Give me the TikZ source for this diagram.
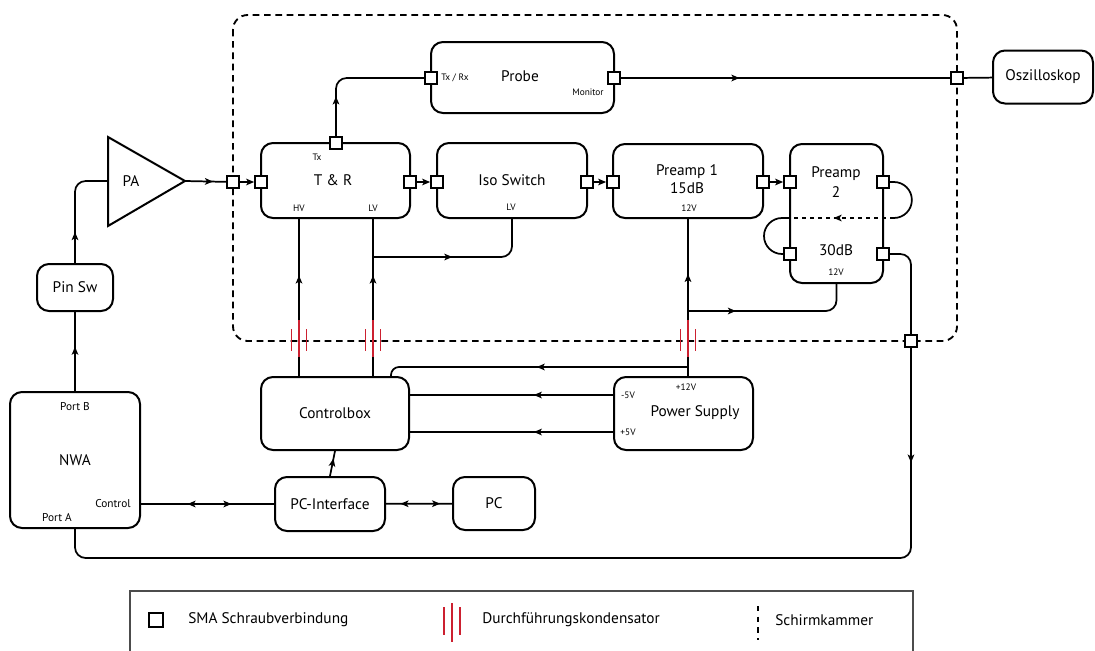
\documentclass[tikz,border=0pt]{standalone}
\usepackage{fontspec}
\setmainfont{PT Sans}
\usetikzlibrary{arrows.meta,decorations.markings}
\definecolor{capred}{RGB}{204,32,48}
\begin{document}
\begin{tikzpicture}[x=0.75pt,y=-0.75pt,
  wire/.style={line width=1.3pt},
  box/.style={draw, line width=1.5pt, rounded corners=9pt, inner sep=0pt},
  sz/.style 2 args={minimum width=#1*0.75pt, minimum height=#2*0.75pt},
  port/.style={draw, line width=1.3pt, fill=white, minimum size=9pt, inner sep=0pt},
  endarrow/.style={-{Stealth[length=6pt,width=5pt,inset=1.5pt]}},
  am/.style={postaction={decorate,decoration={markings,mark=at position #1 with {\arrow{Stealth[length=6pt,width=5pt,inset=1.5pt]}}}}},
  amr/.style={postaction={decorate,decoration={markings,mark=at position #1 with {\arrowreversed{Stealth[length=6pt,width=5pt,inset=1.5pt]}}}}},
  lbl/.style={font=\fontsize{11.5}{13.5}\selectfont, inner sep=0pt},
  lg/.style={font=\fontsize{11.5}{13.5}\selectfont, inner sep=0pt},
  sm/.style={font=\fontsize{7}{8}\selectfont, inner sep=0pt},
  md/.style={font=\fontsize{8.5}{10}\selectfont, inner sep=0pt},
  shield/.style={line width=1.4pt, dash pattern=on 5pt off 3.5pt, rounded corners=11pt},
  capline/.style={draw=capred, line width=1.3pt},
]
\useasboundingbox (0,0) rectangle (1095,650);

% shielding chamber
\draw[shield] (233,15) rectangle (957,341);

% boxes
\node[box, sz={183}{71}] (probe) at (522.5,77.5) {};
\node[lbl] at (520,76) {Probe};
\node[box, sz={100}{53}, lbl] (osz) at (1043,77) {Oszilloskop};
\node[box, sz={149}{75}] (tr) at (335.5,180.5) {};
\node[lbl] at (333,180) {T \& R};
\node[box, sz={150}{75}] (iso) at (512,180.5) {};
\node[lbl] at (512,180) {Iso Switch};
\node[box, sz={150}{74}] (p1) at (688,181) {};
\node[lbl, align=center] at (687,179) {Preamp 1\\15dB};
\node[box, sz={93}{139}] (p2) at (836.5,213.5) {};
\node[lbl, align=center] at (836,182) {Preamp\\[2pt]2};
\node[lbl] at (836,250) {30dB};
\node[box, sz={148}{73}, lbl] (cb) at (335,413.5) {Controlbox};
\node[box, sz={139}{73}] (ps) at (683.5,413.5) {};
\node[lbl] at (695,413) {Power Supply};
\node[box, sz={110}{54}, lbl] (pci) at (330,504) {PC-Interface};
\node[box, sz={82}{53}, lbl] (pc) at (494,503.5) {PC};
\node[box, sz={130}{136}] (nwa) at (75,460) {};
\node[lbl] at (75,460) {NWA};
\node[box, sz={76}{47}, lbl] (pinsw) at (75,287.5) {Pin Sw};

% PA
\draw[line width=1.5pt, line join=miter] (108,137) -- (185,181) -- (108,226) -- cycle;
\coordinate (paIn) at (108,181);
\coordinate (paOut) at (185,181);
\node[lbl] at (131,181) {PA};

% ports
\node[port] (shIn) at (233,182) {};
\node[port] (shOsz) at (957,78) {};
\node[port] (shOut) at (911,341) {};
\node[port] (probeTx) at (431,78) {};
\node[port] (probeMon) at (614,78) {};
\node[port] (trIn) at (261,182) {};
\node[port] (trOut) at (410,182) {};
\node[port] (trTx) at (336,143) {};
\node[port] (isoIn) at (437,182) {};
\node[port] (isoOut) at (587,182) {};
\node[port] (p1In) at (613,182) {};
\node[port] (p1Out) at (763,182) {};
\node[port] (p2a) at (790,182) {};
\node[port] (p2b) at (883,182) {};
\node[port] (p2c) at (790,254) {};
\node[port] (p2d) at (883,254) {};

% small labels
\node[sm] at (455,78) {Tx / Rx};
\node[sm] at (588,92) {Monitor};
\node[sm] at (317,157) {Tx};
\node[sm] at (299,208) {HV};
\node[sm] at (373,208) {LV};
\node[sm] at (511,207) {LV};
\node[sm] at (689,208) {12V};
\node[sm] at (836,272) {12V};
\node[sm] at (628,395) {-5V};
\node[sm] at (628,432) {+5V};
\node[sm] at (686,387) {+12V};
\node[md] at (75,407) {Port B};
\node[md] at (113,504) {Control};
\node[md] at (57,518) {Port A};

% wires
\draw[wire, am=0.56] (nwa.north) -- (pinsw.south);
\draw[wire, rounded corners=8pt, am=0.28] (pinsw.north) |- (paIn);
\draw[wire, am=0.68] (paOut) -- (shIn);
\draw[wire, endarrow] (shIn) -- (trIn);
\draw[wire, endarrow] (trOut) -- (isoIn);
\draw[wire, endarrow] (isoOut) -- (p1In);
\draw[wire, endarrow] (p1Out) -- (p2a);
\draw[wire, rounded corners=8pt, am=0.28] (trTx) |- (probeTx);
\draw[wire, am=0.36] (probeMon) -- (shOsz);
\draw[wire] (shOsz) -- (osz);

% preamp 2 loops
\draw[wire] (p2b.east) -- ++(4,0) arc[start angle=-90, end angle=90, radius=18] coordinate (lr);
\coordinate (ll) at (790,218);
\draw[wire, dashed, am=0.58] (lr) -- (ll);
\draw[wire] (ll) -- ++(-8,0) arc[start angle=270, end angle=90, radius=18] -- (p2c.west);

% output back to NWA port A
\coordinate (br) at (911,558);
\coordinate (bl) at (75,558);
\draw[wire, rounded corners=8pt] (p2d.east) -| (shOut.north);
\draw[wire, rounded corners=8pt, am=86pt] (shOut.south) -- (br) -- (bl) -- (nwa.south);

% supply lines
\coordinate (hvx) at (299,0);
\coordinate (lvx) at (373,0);
\coordinate (vx) at (688,0);
\coordinate (cbx) at (391,0);
\coordinate (y1) at (0,395);
\coordinate (y2) at (0,432);
\draw[wire, am=0.64] (cb.north -| hvx) -- (tr.south -| hvx);
\draw[wire, am=0.64] (cb.north -| lvx) -- (tr.south -| lvx);
\coordinate (lvj) at (373,257);
\draw[wire, rounded corners=8pt, am=0.46] (lvj) -| (iso.south);
\draw[wire, am=0.65] (ps.north -| vx) -- (p1.south -| vx);
\coordinate (vj1) at (688,311);
\draw[wire, rounded corners=8pt, am=0.28] (vj1) -| (p2.south);
\coordinate (vj2) at (688,367);
\draw[wire, rounded corners=6pt, am=0.5] (vj2) -| (cb.north -| cbx);
\draw[wire, am=0.39] (ps.west |- y1) -- (cb.east |- y1);
\draw[wire, am=0.39] (ps.west |- y2) -- (cb.east |- y2);
\draw[wire, am=0.7] (pci.north) -- (cb.south);
\draw[wire, amr=0.35, am=0.68] (nwa.east |- pci.west) -- (pci.west);
\draw[wire, amr=0.22, am=0.82] (pci) -- (pc);

% feedthrough capacitors
\foreach \x in {299,373,688} {
  \draw[capline] (\x,320) -- (\x,357);
  \draw[capline] (\x-7.5,329) -- (\x-7.5,351);
  \draw[capline] (\x+7.5,329) -- (\x+7.5,351);
}

% legend
\draw[line width=0.9pt, black!70] (130,655) -- (130,591) -- (913,591) -- (913,655);
\node[port, minimum size=10pt] (lsq) at (156,620) {};
\node[lg, anchor=west] at (188,620) {SMA Schraubverbindung};
\draw[capline] (452,603) -- (452,642);
\draw[capline] (444,607) -- (444,635);
\draw[capline] (460,607) -- (460,635);
\node[lg, anchor=west] at (482,620) {Durchführungskondensator};
\draw[line width=1.3pt, dash pattern=on 4pt off 4pt] (758,606) -- (758,640);
\node[lg, anchor=west] at (775,620) {Schirmkammer};
\end{tikzpicture}
\end{document}
